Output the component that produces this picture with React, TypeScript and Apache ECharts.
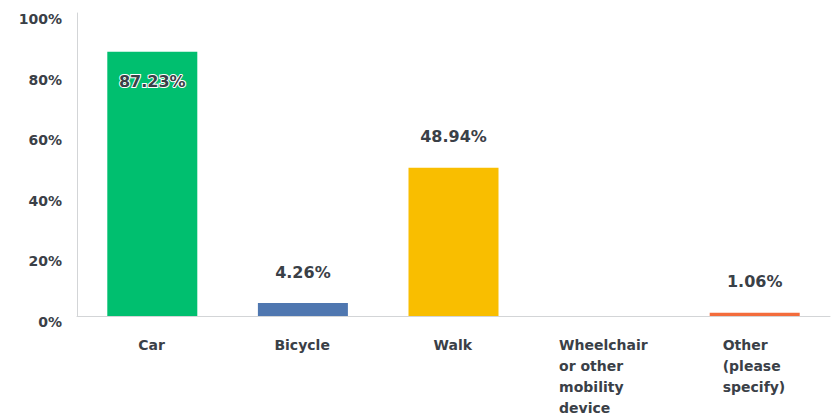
import React, { useEffect, useRef } from "react";
import * as echarts from "echarts";

const categories = ["Car", "Bicycle", "Walk", "Wheelchair\nor other\nmobility\ndevice", "Other\n(please\nspecify)"];
const values = [87.23, 4.26, 48.94, 0, 1.06];
const valueLabels = ["87.23%", "4.26%", "48.94%", "", "1.06%"];
const barColors = ["#00BF6F", "#4F77B0", "#F9BE00", "#6BC8CD", "#F36C3C"];
const yTicks = [0, 20, 40, 60, 80, 100];

const FONT = "'DejaVu Sans', Verdana, sans-serif";
const TEXT = "#3a4047";

function measure(text: string, font: string): number {
  const c = document.createElement("canvas").getContext("2d");
  if (!c) return text.length * 8;
  c.font = font;
  return c.measureText(text).width;
}

export default function App() {
  const ref = useRef<HTMLDivElement>(null);
  useEffect(() => {
    document.body.style.margin = "0";
    if (!ref.current) return;
    const chart = echarts.init(ref.current, undefined, { renderer: "svg" });
    const labelFont = `bold 14px ${FONT}`;
    const widths = categories.map((c) => Math.ceil(Math.max(...c.split("\n").map((l) => measure(l, labelFont)))) + 1);
    const rich: Record<string, any> = {};
    widths.forEach((w, i) => {
      rich["c" + i] = {
        width: w,
        align: "left",
        fontFamily: FONT,
        fontWeight: "bold",
        fontSize: 14,
        color: TEXT,
        lineHeight: 21,
      };
    });
    chart.setOption({
      animation: false,
      grid: { left: 77, right: 3, top: 13, bottom: 101, containLabel: false },
      xAxis: {
        type: "category",
        data: categories,
        axisLine: { show: true, lineStyle: { color: "#d3d5d7", width: 1 } },
        axisTick: { show: false },
        axisLabel: {
          interval: 0,
          margin: 18,
          align: "center",
          verticalAlign: "top",
          formatter: (v: string, i: number) =>
            v
              .split("\n")
              .map((l) => `{c${i}|${l}}`)
              .join("\n"),
          rich,
        },
      },
      yAxis: {
        type: "value",
        min: yTicks[0],
        max: yTicks[yTicks.length - 1],
        interval: 20,
        axisLine: { show: true, lineStyle: { color: "#d3d5d7", width: 1 } },
        axisTick: { show: false },
        splitLine: { show: false },
        axisLabel: {
          formatter: "{value}%",
          margin: 15,
          fontFamily: FONT,
          fontWeight: "bold",
          fontSize: 14,
          color: TEXT,
          verticalAlign: "top",
          lineHeight: 12,
        },
      },
      series: [
        {
          type: "bar",
          barWidth: 90,
          data: values.map((v, i) => ({
            value: v,
            itemStyle: { color: barColors[i] },
            label:
              i === 0
                ? {
                    show: true,
                    position: "insideTop",
                    distance: 22,
                    formatter: valueLabels[i],
                    textBorderColor: "#ffffff",
                    textBorderWidth: 2,
                  }
                : {
                    show: valueLabels[i] !== "",
                    position: "top",
                    distance: 23,
                    formatter: valueLabels[i],
                  },
          })),
          label: {
            fontFamily: FONT,
            fontWeight: "bold",
            fontSize: 16,
            color: TEXT,
          },
        },
      ],
    });
    return () => chart.dispose();
  }, []);
  return <div ref={ref} style={{ width: 833, height: 417 }} />;
}
